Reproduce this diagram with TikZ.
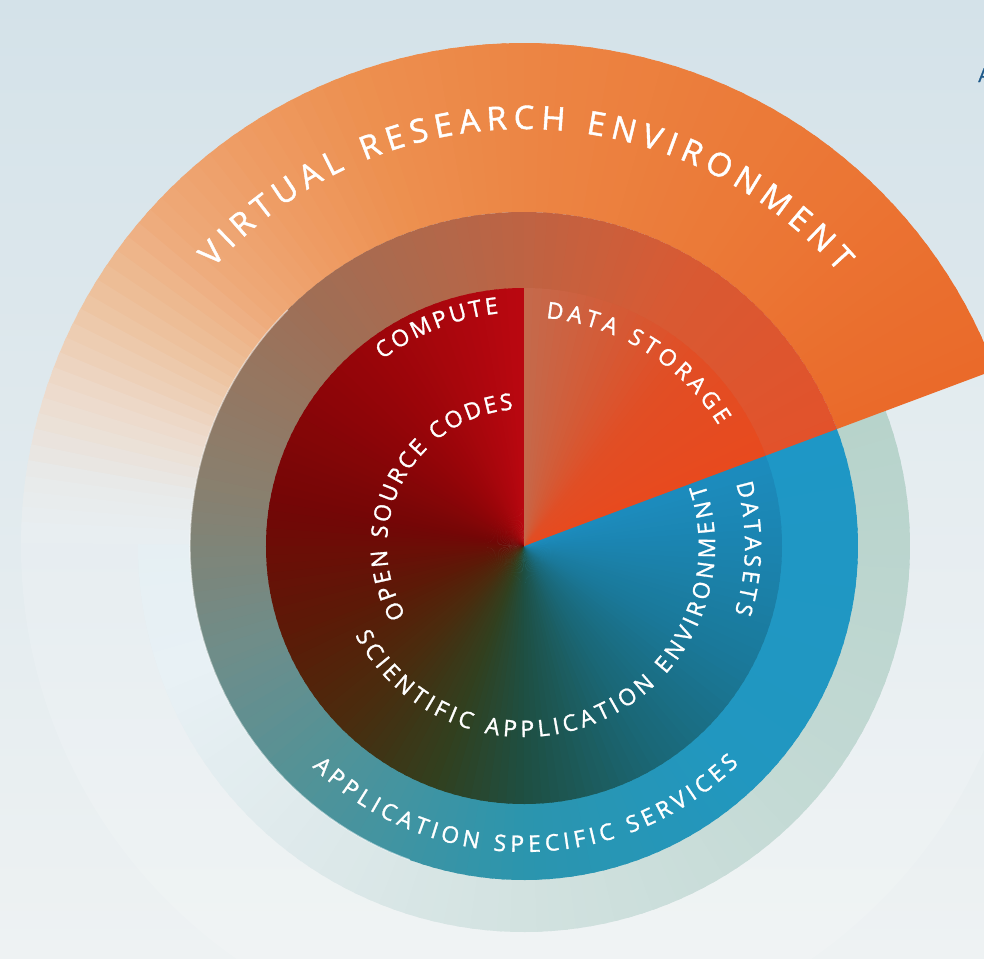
\documentclass[tikz,border=0pt]{standalone}
\usepackage{fontspec}
\usepackage{tikz}
\usetikzlibrary{decorations.text}
\newfontfamily\ringfont{Open Sans}[FakeBold=1.3]

\definecolor{BgTop}{HTML}{D4E2E9}
\definecolor{BgBottom}{HTML}{EEF2F3}
\definecolor{CutBlue}{HTML}{1F5A8A}
% virtual research environment band
\definecolor{VreA}{HTML}{EA6A2A}
\definecolor{VreB}{HTML}{EB7A38}
\definecolor{VreC}{HTML}{EC8544}
\definecolor{VreD}{HTML}{ED9050}
\definecolor{VreE}{HTML}{EE9C64}
\definecolor{VreF}{HTML}{EEAA7A}
\definecolor{VreG}{HTML}{EDC3A0}
\definecolor{VreH}{HTML}{EDDACA}
\definecolor{VreI}{HTML}{E8EAEA}
\definecolor{VreJ}{HTML}{E8EFF2}
% pale outer ring
\definecolor{PaleA}{HTML}{E8F1F5}
\definecolor{PaleB}{HTML}{DFEAEC}
\definecolor{PaleC}{HTML}{D2E2E0}
\definecolor{PaleD}{HTML}{C4DAD5}
\definecolor{PaleE}{HTML}{B7D3CB}
\definecolor{PaleF}{HTML}{DCE8EA}
% application specific services ring
\definecolor{SvcA}{HTML}{6E8D8A}
\definecolor{SvcB}{HTML}{4F9399}
\definecolor{SvcC}{HTML}{2B95AE}
\definecolor{SvcD}{HTML}{2197C0}
\definecolor{SvcE}{HTML}{1E97C6}
\definecolor{SvcF}{HTML}{E2522B}
\definecolor{SvcG}{HTML}{D85A33}
\definecolor{SvcH}{HTML}{BE6343}
\definecolor{SvcI}{HTML}{A06E55}
\definecolor{SvcJ}{HTML}{88806F}
% core disk
\definecolor{CoreA}{HTML}{5C1A07}
\definecolor{CoreB}{HTML}{4A2C0E}
\definecolor{CoreC}{HTML}{31401F}
\definecolor{CoreD}{HTML}{1E4F42}
\definecolor{CoreE}{HTML}{1A6674}
\definecolor{CoreF}{HTML}{1A7898}
\definecolor{CoreG}{HTML}{1B84B0}
\definecolor{CoreH}{HTML}{1C8CBE}
\definecolor{CoreI}{HTML}{E84A1E}
\definecolor{CoreJ}{HTML}{E14E25}
\definecolor{CoreK}{HTML}{C46A4C}
\definecolor{CoreL}{HTML}{BA0710}
\definecolor{CoreM}{HTML}{980509}
\definecolor{CoreN}{HTML}{740606}

% ring from #1 to #2, colour turning with the angle: a1/c1/a2/c2,...
\newcommand\conicring[3]{%
  \foreach \ang/\cola/\angb/\colb in {#3}{
    \pgfmathtruncatemacro\nsteps{max(1,round((\angb-\ang)/2))}
    \foreach \k in {1,...,\nsteps}{
      \pgfmathsetmacro\sa{\ang+(\k-1)*(\angb-\ang)/\nsteps}
      \pgfmathsetmacro\ea{\ang+\k*(\angb-\ang)/\nsteps+0.7}
      \pgfmathtruncatemacro\mixp{round(100-100*(\k-0.5)/\nsteps)}
      \fill[\cola!\mixp!\colb] (\sa:#1) arc[start angle=\sa, end angle=\ea, radius=#1]
        -- (\ea:#2) arc[start angle=\ea, end angle=\sa, radius=#2] -- cycle;
    }
  }}

\begin{document}
\begin{tikzpicture}[x=0.02cm, y=0.02cm,
  ringtext/.style={decorate, decoration={text along path, text align=fit to path, text color=white,
    text={|\ringfont\fontsize{13}{15}\selectfont|#1}}},
  bigtext/.style={decorate, decoration={text along path, text align=fit to path, text color=white,
    text={|\ringfont\fontsize{18.5}{21}\selectfont|#1}}}]
  \useasboundingbox (-524,-412) rectangle (460,546);
  \fill[top color=BgTop, bottom color=BgBottom] (-524,-412) rectangle (460,546);
  \coordinate (hub) at (0,0);

  % faint outer ring
  \fill[white, opacity=0.15, even odd rule] (hub) circle[radius=503] (hub) circle[radius=386];

  % pale ring
  \conicring{0.01}{386}{200/PaleA/230/PaleB, 230/PaleB/270/PaleC, 270/PaleC/315/PaleD,
    315/PaleD/380.5/PaleE, 380.5/PaleE/450/PaleF, 450/PaleF/560/PaleA}

  % virtual research environment band
  \conicring{334}{503}{20.5/VreA/60/VreB, 60/VreB/90/VreC, 90/VreC/110/VreD, 110/VreD/125/VreE,
    125/VreE/138/VreF, 138/VreF/150/VreG, 150/VreG/161/VreH, 161/VreH/172/VreI, 172/VreI/179/VreJ}

  % services ring
  \conicring{0.01}{334}{200/SvcA/230/SvcB, 230/SvcB/270/SvcC, 270/SvcC/315/SvcD,
    315/SvcD/380.5/SvcE, 380.5/SvcF/420/SvcG, 420/SvcG/450/SvcH, 450/SvcH/490/SvcI,
    490/SvcI/530/SvcJ, 530/SvcJ/560/SvcA}
  \draw[white, opacity=0.5, line width=0.8pt] (135:334) arc[start angle=135, end angle=250, radius=334];

  % core disk
  \conicring{0.01}{258}{200/CoreA/225/CoreB, 225/CoreB/250/CoreC, 250/CoreC/270/CoreD,
    270/CoreD/300/CoreE, 300/CoreE/330/CoreF, 330/CoreF/360/CoreG, 360/CoreG/380.5/CoreH,
    380.5/CoreI/410/CoreJ, 410/CoreJ/450/CoreK, 450/CoreL/490/CoreM, 490/CoreM/530/CoreN,
    530/CoreN/560/CoreA}

  % labels
  \path[bigtext=VIRTUAL RESEARCH ENVIRONMENT] (138.2:417) arc[start angle=138.2, end angle=41, radius=417];
  \path[ringtext=COMPUTE] (127.2:234) arc[start angle=127.2, end angle=96.2, radius=234];
  \path[ringtext=DATA STORAGE] (84.5:229) arc[start angle=84.5, end angle=31.8, radius=229];
  \path[ringtext=OPEN SOURCE CODES] (210.5:137) arc[start angle=210.5, end angle=94.5, radius=137];
  \path[ringtext=DATASETS] (16.4:221) arc[start angle=16.4, end angle=-17.7, radius=221];
  \path[ringtext=SCIENTIFIC APPLICATION ENVIRONMENT] (207.9:191) arc[start angle=207.9, end angle=379, radius=191];
  \path[ringtext=APPLICATION SPECIFIC SERVICES] (226.2:306) arc[start angle=226.2, end angle=314.6, radius=306];

  \node[anchor=base west, inner sep=0pt, text=CutBlue, font=\ringfont\fontsize{11}{12}\selectfont] (cutA) at (454,464) {A};
\end{tikzpicture}
\end{document}
